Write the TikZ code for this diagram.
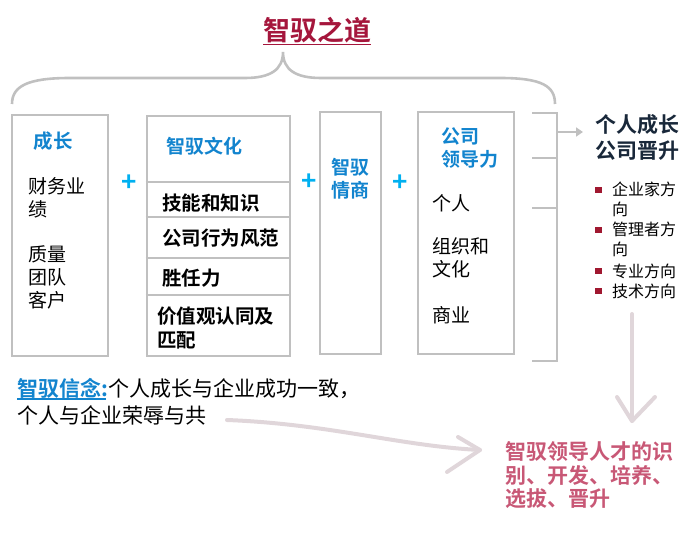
\documentclass[tikz,border=0pt]{standalone}
\usepackage{fontspec}
\setmainfont{Noto Sans CJK SC}[BoldFont={Noto Sans CJK SC Bold}]
\usetikzlibrary{arrows.meta}
\definecolor{gline}{RGB}{192,192,192}
\definecolor{tblue}{RGB}{18,132,206}
\definecolor{pcyan}{RGB}{0,176,240}
\definecolor{tred}{RGB}{165,22,60}
\definecolor{bred}{RGB}{160,24,48}
\definecolor{tnavy}{RGB}{25,40,58}
\definecolor{tpink}{RGB}{200,88,118}
\definecolor{hand}{RGB}{224,214,218}
\newcommand\myfs[2]{\fontsize{#1}{#2}\selectfont}
\begin{document}
\begin{tikzpicture}[x=1pt,y=-1pt,
  box/.style={draw=gline,line width=2.6pt,inner sep=0pt},
  gl/.style={draw=gline,line width=2.6pt},
  lbl/.style={anchor=west,inner sep=0pt,align=left},
  bluebold/.style={lbl,text=tblue,font=\myfs{19}{23}\bfseries},
  body/.style={lbl,text=black,font=\myfs{19}{23}},
  item/.style={lbl,text=black,font=\myfs{19.5}{24}\bfseries},
  plus/.style={inner sep=0pt,text=pcyan,font=\myfs{26}{26}\bfseries},
  bul/.style={lbl,text=black,font=\myfs{16}{19.5}},
  sq/.style={fill=bred,inner sep=0pt,minimum size=6.5pt},
  handline/.style={draw=hand,line width=4pt,line cap=round,line join=round}
]
\useasboundingbox (0,0) rectangle (690,534);

% title
\node[lbl,text=tred,font=\myfs{27}{30}\bfseries] (title) at (263,30) {智驭之道};
\draw[tred,line width=1.3pt] ([yshift=-1.5pt]title.south west) -- ([yshift=-1.5pt]title.south east);

% brace
\draw[gl] (12,104) .. controls (12,86) and (28,78) .. (70,78) -- (245,78)
  .. controls (270,78) and (283,70) .. (283,52)
  .. controls (283,70) and (296,78) .. (321,78) -- (500,78)
  .. controls (542,78) and (555,86) .. (555,104);

% boxes
\node[box,minimum width=96pt,minimum height=241pt] (b1) at (60,235.5) {};
\node[box,minimum width=143pt,minimum height=240pt] (b2) at (218.5,236) {};
\node[box,minimum width=61pt,minimum height=242pt] (b3) at (350.5,233) {};
\node[box,minimum width=96pt,minimum height=242pt] (b4) at (466,233) {};

% box 2 dividers
\draw[gl] (b2.west |- 0,182) -- (b2.east |- 0,182);
\draw[gl] (b2.west |- 0,217) -- (b2.east |- 0,217);
\draw[gl] (b2.west |- 0,258) -- (b2.east |- 0,258);
\draw[gl] (b2.west |- 0,295) -- (b2.east |- 0,295);

% plus signs
\node[plus] (p1) at (129.5,183) {+};
\node[plus] (p2) at (309,182) {+};
\node[plus] (p3) at (400.5,183) {+};

% box 1 text
\node[bluebold,font=\myfs{19.5}{23}\bfseries] (t1) at (33.5,141) {成长};
\node[body] (t1a) at (28,198) {财务业\\绩};
\node[body] (t1b) at (28,277) {质量\\团队\\客户};

% box 2 text
\node[bluebold] (t2) at (166.5,146) {智驭文化};
\node[item] (t2a) at (162,203) {技能和知识};
\node[item] (t2b) at (162,238) {公司行为风范};
\node[item] (t2c) at (162,278) {胜任力};
\node[item] (t2d) at (157,328) {价值观认同及\\匹配};

% box 3 text
\node[bluebold] (t3) at (331.5,178.5) {智驭\\情商};

% box 4 text
\node[bluebold] (t4) at (441.5,148.5) {公司\\领导力};
\node[body] (t4a) at (432.5,203) {个人};
\node[body] (t4b) at (432.5,258) {组织和\\文化};
\node[body] (t4c) at (432.5,315) {商业};

% right bracket
\draw[gl] (532,113) -- (557,113) -- (557,361) -- (532,361);
\draw[gl] (532,158) -- (557,158);
\draw[gl] (532,208) -- (557,208);
\coordinate (arrS) at (557,132);
\coordinate (arrE) at (583,132);
\draw[gline,line width=2.2pt,-{Triangle[length=7pt,width=9pt]}] (arrS) -- (arrE);

% right heading
\node[lbl,text=tnavy,font=\myfs{21}{26}\bfseries] (head) at (595,137) {个人成长\\公司晋升};

% bullets
\node[sq] (s1) at (598.5,190) {};
\node[sq] (s2) at (598.5,230) {};
\node[sq] (s3) at (598.5,271) {};
\node[sq] (s4) at (598.5,291) {};
\node[bul] (u1) at (612,199.5) {企业家方\\向};
\node[bul] (u2) at (612,239.5) {管理者方\\向};
\node[bul] (u3) at (612,271) {专业方向};
\node[bul] (u4) at (612,291) {技术方向};

% belief text
\node[lbl,font=\myfs{21}{27}] (belief) at (17,401.5) {\textcolor{tblue}{\textbf{智驭信念:}}个人成长与企业成功一致，\\个人与企业荣辱与共};
\draw[tblue,line width=1.2pt] (17,399) -- (106,399);

% bottom pink text
\node[lbl,text=tpink,font=\myfs{21}{23.5}\bfseries] (goal) at (505,475.5) {智驭领导人才的识\\别、开发、培养、\\选拔、晋升};

% hand-drawn arrows
\coordinate (dA) at (632,314);
\coordinate (dB) at (632,421);
\draw[handline] (dA) -- (dB);
\draw[handline] (617,397) -- (dB) -- (655,397);
\coordinate (hA) at (227,420);
\coordinate (hB) at (480,450);
\draw[handline] (hA) .. controls (330,424) and (400,446) .. (hB);
\draw[handline] (458,437) -- (hB) -- (447,472);
\end{tikzpicture}
\end{document}
